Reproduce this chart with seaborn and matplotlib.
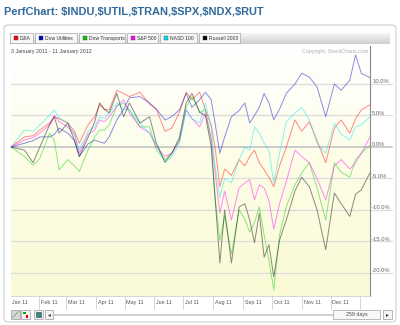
import numpy as np
import pandas as pd
import seaborn as sns
import matplotlib
matplotlib.use("Agg")
import matplotlib.pyplot as plt
import matplotlib.dates as mdates
import matplotlib.transforms as mtransforms
from matplotlib.patches import Rectangle, FancyBboxPatch

# ---------------- data ----------------
dates = ["2011-01-03","2011-01-17","2011-01-26","2011-02-02","2011-02-12","2011-02-17",
         "2011-02-22","2011-03-03","2011-03-10","2011-03-15","2011-03-24","2011-03-31",
         "2011-04-05","2011-04-10","2011-04-15","2011-04-23","2011-04-30","2011-05-06",
         "2011-05-17","2011-05-27","2011-06-03","2011-06-12","2011-06-19","2011-06-27",
         "2011-07-04","2011-07-10","2011-07-18","2011-07-24","2011-07-30","2011-08-03",
         "2011-08-08","2011-08-13","2011-08-20","2011-08-28","2011-09-03","2011-09-08",
         "2011-09-13","2011-09-18","2011-09-23","2011-09-28","2011-10-03","2011-10-09",
         "2011-10-16","2011-10-25","2011-11-01","2011-11-09","2011-11-17","2011-11-26",
         "2011-12-05","2011-12-12","2011-12-21","2011-12-27","2012-01-02","2012-01-11"]

djia = [0,1.6,1.8,2.7,3.8,4.8,4.5,3.8,2.5,0.6,3.5,4.8,6.7,6.0,5.9,9.0,8.5,8.0,8.7,6.8,
        6.0,2.5,3.0,5.5,8.7,7.5,8.7,5.9,3.5,0.0,-6.3,-3.5,-4.5,-2.0,-3.0,-1.5,-0.5,-2.5,
        -3.6,-4.8,-6.3,-3.0,0.0,4.3,2.5,4.0,1.0,-2.5,3.0,4.3,2.2,4.5,5.9,6.7]
util = [0,0.6,1.0,1.6,1.6,2.0,3.0,2.2,1.0,-1.5,0.5,1.1,0.8,0.6,1.6,4.3,6.0,7.8,8.0,7.0,
        6.0,4.3,4.8,5.9,8.5,6.3,7.5,8.7,7.5,3.8,-1.0,1.6,4.8,5.8,7.0,3.8,5.0,6.3,8.5,7.0,
        4.3,6.0,8.5,10.0,11.7,11.1,9.5,4.8,10.0,9.0,10.6,14.6,11.7,11.0]
tran = [0,-1.5,-2.9,-1.8,2.2,1.0,-3.6,-2.0,-3.0,-3.9,-0.5,1.6,2.7,2.7,3.5,6.5,7.0,5.9,
        3.2,3.2,-0.5,-2.0,-1.0,1.0,6.3,8.0,5.5,5.9,1.0,-8.0,-14.8,-11.0,-17.0,-10.0,-11.5,
        -13.5,-12.0,-9.5,-14.0,-18.0,-22.7,-14.0,-9.5,-6.0,-4.1,-2.5,-6.5,-11.6,-2.5,-4.0,
        -4.8,-2.0,-1.0,0.3]
spx = [0,1.1,1.5,2.2,3.5,5.0,4.0,3.2,2.0,-1.0,2.0,2.7,4.3,4.0,4.8,6.5,7.5,5.4,3.2,2.2,
       0.0,-1.5,-1.0,1.0,5.9,4.5,3.2,5.4,1.5,-4.0,-10.5,-7.0,-11.6,-6.5,-5.7,-5.2,-8.4,
       -6.0,-6.5,-8.5,-13.0,-9.0,-5.5,-0.5,-1.5,-2.5,-5.0,-8.4,-3.0,-2.0,-3.5,-2.5,-1.0,1.6]
ndx = [0,2.7,2.5,3.5,5.0,5.9,4.6,3.8,2.0,-0.5,2.5,3.2,4.8,4.5,5.4,7.0,6.0,5.9,3.8,2.2,
       0.5,-2.5,-1.5,0.5,5.9,4.5,3.8,7.0,3.0,-3.0,-8.0,-5.0,-5.7,-2.0,0.0,-0.5,3.2,2.2,
       0.6,-0.5,-5.7,-1.0,4.0,5.4,6.3,4.3,0.6,-1.0,3.8,2.0,1.1,3.2,3.5,4.8]
rut = [0,-0.5,-2.5,0.0,3.5,4.8,2.2,3.8,1.0,-1.5,1.5,4.0,7.0,6.0,5.4,8.5,4.8,7.0,3.8,4.8,
       0.6,-2.4,-1.0,1.5,7.0,8.5,5.5,5.0,0.0,-8.0,-18.4,-10.0,-18.4,-9.5,-9.0,-11.6,-15.2,
       -10.5,-17.5,-15.5,-20.6,-14.8,-11.6,-7.0,-4.8,-6.3,-10.0,-16.3,-7.3,-9.0,-11.0,
       -7.5,-6.8,-4.1]

series_names = ["DJIA", "Dow Utilities", "Dow Transports", "S&P 500", "NASD 100", "Russell 2000"]
series_colors = ["#ff0000", "#0000cc", "#00cc00", "#ff00ff", "#00e5ee", "#000000"]
series_values = [djia, util, tran, spx, ndx, rut]
y_ticks = [10, 5, 0, -5, -10, -15, -20]
month_labels = ["Jan 11", "Feb 11", "Mar 11", "Apr 11", "May 11", "Jun 11",
                "Jul 11", "Aug 11", "Sep 11", "Oct 11", "Nov 11", "Dec 11"]
title = "PerfChart: $INDU,$UTIL,$TRAN,$SPX,$NDX,$RUT"
date_range_text = "3 January 2011 - 11 January 2012"
days_text = "259 days"

frames = []
for name, vals in zip(series_names, series_values):
    frames.append(pd.DataFrame({"date": pd.to_datetime(dates), "value": vals, "series": name}))
df = pd.concat(frames, ignore_index=True)

# ---------------- figure ----------------
sns.set_style("white")
plt.rcParams["font.family"] = ["Liberation Sans", "DejaVu Sans"]

W, H = 400, 325
fig = plt.figure(figsize=(W / 100, H / 100), dpi=100)
fig.patch.set_facecolor("white")

def fx(px):
    return px / W

def fy(py):
    return 1 - py / H

# outer panel
panel = FancyBboxPatch((fx(4), fy(322)), fx(392) - fx(0), (322 - 25) / H,
                       boxstyle="round,pad=0,rounding_size=0.012",
                       transform=fig.transFigure, fc="white", ec="#d4d4d4", lw=0.9, zorder=0)
fig.add_artist(panel)

fig.text(fx(4), fy(12), title.replace("$", r"\$"), fontsize=7.9, fontweight="bold",
         color="#2f6a9b", va="center", ha="left")

# legend bar (gradient)
bar_ax = fig.add_axes([fx(10), fy(44), fx(390) - fx(10), 11 / H])
grad = np.linspace(0, 1, 50).reshape(-1, 1)
bar_ax.imshow(grad, aspect="auto", cmap=matplotlib.colors.LinearSegmentedColormap.from_list(
    "g", ["#f6f6f6", "#cfcfcf"]), extent=[0, 1, 0, 1])
bar_ax.set_axis_off()

tabs = [(10, 33), (35, 77), (79, 125), (127, 158), (160, 197), (199, 240)]
for (x0, x1), name, col in zip(tabs, series_names, series_colors):
    fig.add_artist(Rectangle((fx(x0), fy(43)), fx(x1) - fx(x0), 10 / H,
                             transform=fig.transFigure, fc="#f7f7f7", ec="#a8a8a8",
                             lw=0.5, zorder=5))
    fig.add_artist(Rectangle((fx(x0 + 3.5), fy(40)), fx(4), 4 / H,
                             transform=fig.transFigure, fc=col, ec="#444444",
                             lw=0.3, zorder=6))
    fig.text(fx(x0 + 10), fy(38.2), name, fontsize=3.6, color="#333333",
             va="center", ha="left", zorder=7)

# ---------------- main axes ----------------
px_per_pct = 6.3
zero_px = 147
top_px, bot_px = 46, 296
ymax = (zero_px - top_px) / px_per_pct
ymin = (zero_px - bot_px) / px_per_pct

ax = fig.add_axes([fx(11), fy(bot_px), fx(370) - fx(11), (bot_px - top_px) / H])
x0d = pd.Timestamp("2011-01-03")
x1d = pd.Timestamp("2012-01-11")

# background gradient
bg = np.linspace(0, 1, 200).reshape(-1, 1)
bg_cmap = matplotlib.colors.LinearSegmentedColormap.from_list("bg", ["#ffffff", "#fdfde6", "#fafad6"])
ax.imshow(bg, aspect="auto", cmap=bg_cmap,
          extent=[mdates.date2num(x0d), mdates.date2num(x1d), ymin, ymax],
          origin="upper", zorder=0)

trans = mtransforms.blended_transform_factory(ax.transAxes, ax.transData)
for v in y_ticks:
    ax.plot([0, 1.06], [v, v], transform=trans, color="#c8c8c8" if v == 0 else "#dcdcdc",
            lw=1.3 if v == 0 else 0.9, clip_on=False, zorder=1)
    ax.text(1.006, v + 2.2 / px_per_pct, f"{v:.1f}%", transform=trans, fontsize=4.2,
            color="#666666", va="center", ha="left")

palette = dict(zip(series_names, series_colors))
sns.lineplot(data=df, x="date", y="value", hue="series", palette=palette,
             linewidth=0.7, alpha=0.45, legend=False, ax=ax, zorder=3)

ax.set_xlim(x0d, x1d)
ax.set_ylim(ymin, ymax)
ax.set_xlabel("")
ax.set_ylabel("")
ax.set_xticks([])
ax.set_yticks([])
for s in ["left", "top"]:
    ax.spines[s].set_visible(False)
ax.spines["right"].set_color("#8a8a8a")
ax.spines["right"].set_linewidth(0.8)
ax.spines["bottom"].set_color("#cfcfcf")
ax.spines["bottom"].set_linewidth(0.6)

# month strip
xtrans = mtransforms.blended_transform_factory(ax.transData, ax.transAxes)
strip_h = 13 / (bot_px - top_px)
month_starts = pd.date_range("2011-02-01", "2012-01-01", freq="MS")
for m in month_starts:
    ax.plot([m, m], [0, -strip_h], transform=xtrans, color="#d0d0d0", lw=0.6,
            clip_on=False, zorder=2)
label_pos = [x0d + pd.Timedelta(days=1)] + [m + pd.Timedelta(days=2) for m in month_starts[:11]]
for pos, lab in zip(label_pos, month_labels):
    ax.text(pos, -0.5 * strip_h, lab, transform=xtrans, fontsize=3.9, color="#555555",
            va="center", ha="left")

# header texts inside plot area
fig.text(fx(11), fy(51), date_range_text, fontsize=3.8, color="#444444", va="center", ha="left")
fig.text(fx(368), fy(51), "Copyright, StockCharts.com", fontsize=3.8, color="#b0b0b0",
         va="center", ha="right")

# bottom controls
def box(x0, y0, x1, y1, fc="#f0f0f0", ec="#9a9a9a", lw=0.5, z=5):
    fig.add_artist(Rectangle((fx(x0), fy(y1)), fx(x1) - fx(x0), (y1 - y0) / H,
                             transform=fig.transFigure, fc=fc, ec=ec, lw=lw, zorder=z))

box(11, 310, 20, 319, fc="#d8d8d8")
fig.add_artist(plt.Line2D([fx(12.5), fx(18.5)], [fy(317.5), fy(311.5)],
                          transform=fig.transFigure, color="#66aa66", lw=0.6, zorder=6))
box(21, 310, 30, 319, fc="#f4f4f4")
box(23, 311.5, 25.5, 314, fc="#00aa00", ec="none", z=6)
box(26, 315, 28.5, 317.5, fc="#dd0000", ec="none", z=6)
box(34, 310, 43, 319, fc="#f4f4f4")
box(35.8, 311.8, 41.2, 317.2, fc="#2b8c8c", ec="#555555", z=6)
box(45, 310, 53, 319, fc="#f4f4f4")
fig.text(fx(49), fy(314.5), "◂", fontsize=4, color="#333333", ha="center", va="center",
         family=["DejaVu Sans"], zorder=7)
fig.add_artist(plt.Line2D([fx(53), fx(333)], [fy(314.5), fy(314.5)],
                          transform=fig.transFigure, color="#c8c8c8", lw=1.2, zorder=5))
box(333, 310, 380, 319, fc="#f8f8f8", ec="#a0a0a0")
fig.text(fx(356.5), fy(314.5), days_text, fontsize=3.8, color="#444444", ha="center",
         va="center", zorder=7)
box(383, 310, 392, 319, fc="#f4f4f4")
fig.text(fx(387.5), fy(314.5), "▸", fontsize=4, color="#333333", ha="center", va="center",
         family=["DejaVu Sans"], zorder=7)

fig.savefig("out.png", dpi=100, facecolor="white")
